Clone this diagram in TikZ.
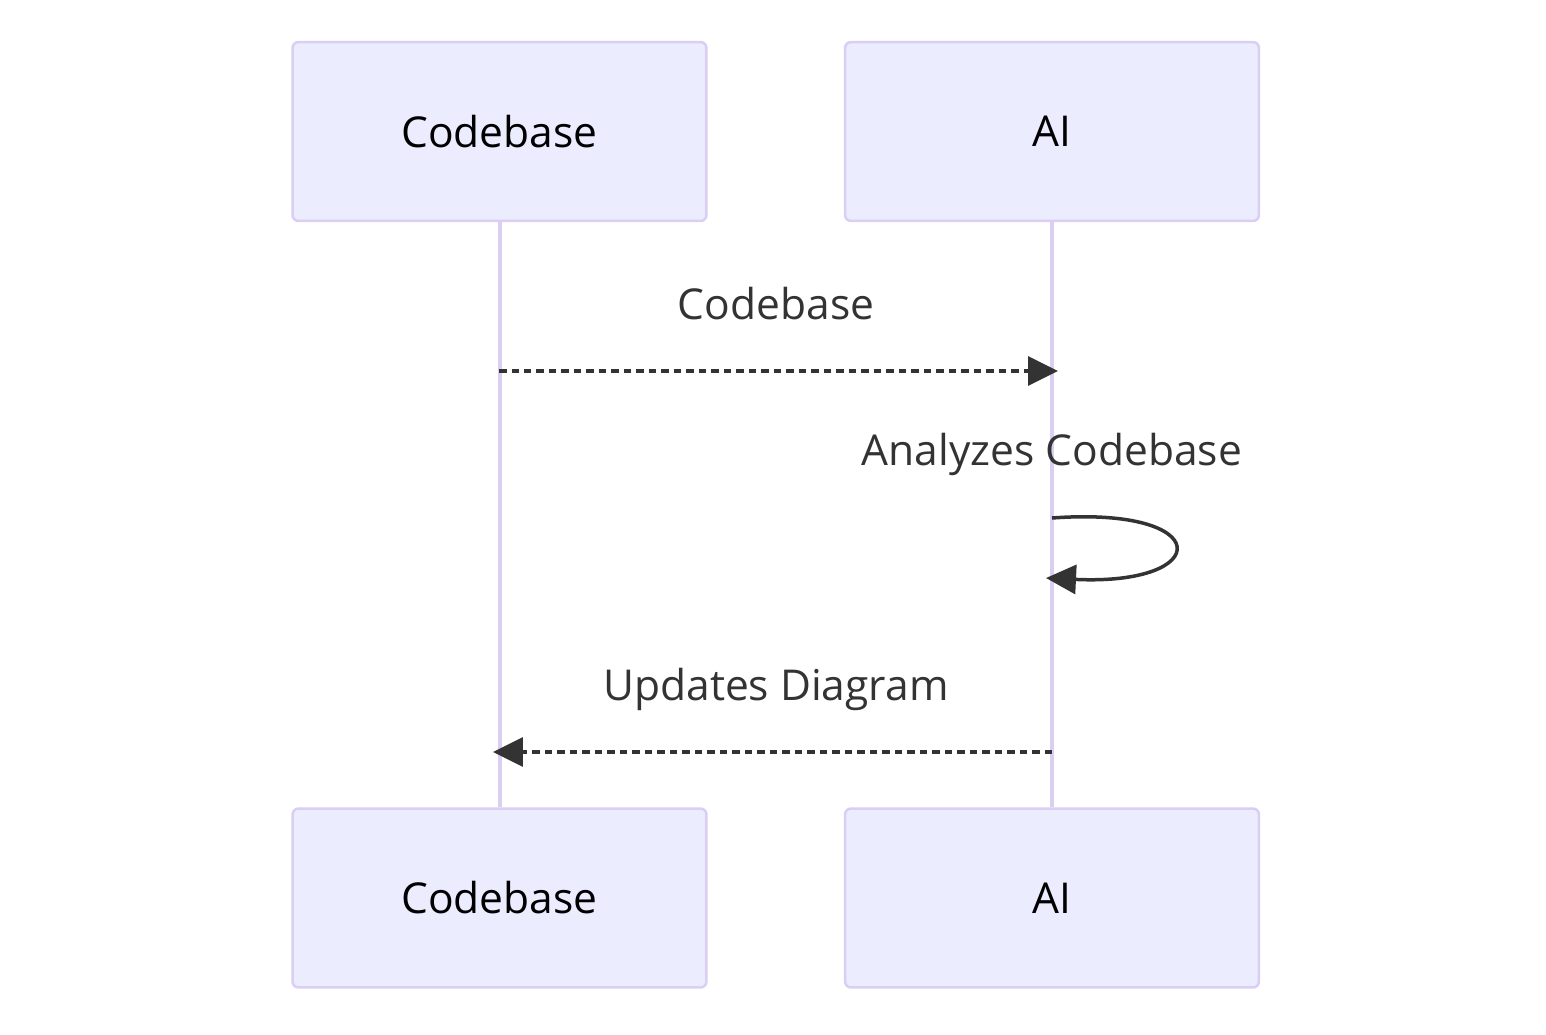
\documentclass[tikz,border=0pt]{standalone}
\usepackage{fontspec}
\setmainfont{Open Sans}
\usetikzlibrary{arrows.meta}
\definecolor{actorfill}{HTML}{ECECFF}
\definecolor{actorline}{HTML}{DACEF3}
\definecolor{msgline}{HTML}{333333}
\tikzset{
	actor/.style={draw=actorline, line width=0.05cm, fill=actorfill, rounded corners=0.12cm,
		minimum width=8.28cm, minimum height=3.58cm, inner sep=0pt,
		font=\fontsize{24.2pt}{29pt}\selectfont, text=black},
	lifeline/.style={draw=actorline, line width=0.08cm},
	msglabel/.style={font=\fontsize{24.2pt}{29pt}\selectfont, text=msgline, inner sep=0pt},
	msgarrow/.style={draw=msgline, line width=0.07cm, dash pattern=on 0.15cm off 0.1cm,
		-{Triangle[length=0.6cm,width=0.58cm]}},
	selfarrow/.style={draw=msgline, line width=0.07cm,
		-{Triangle[length=0.6cm,width=0.58cm]}}
}
\begin{document}
\begin{tikzpicture}[x=0.02cm, y=-0.02cm]
	\useasboundingbox (0,0) rectangle (1546,1035);
	% actors, top and bottom
	\node[actor] (codetop) at (499.5,131.5) {Codebase};
	\node[actor] (aitop) at (1052,131.5) {AI};
	\node[actor] (codebot) at (499.5,898) {Codebase};
	\node[actor] (aibot) at (1052,898) {AI};
	% lifelines
	\draw[lifeline] (codetop.south) -- (codebot.north);
	\draw[lifeline] (aitop.south) -- (aibot.north);
	% messages
	\coordinate (m1from) at (499,371);
	\coordinate (m1to) at (1058,371);
	\node[msglabel] (m1label) at (776,304) {Codebase};
	\draw[msgarrow] (m1from) -- (m1to);
	\coordinate (m2from) at (1052,518);
	\coordinate (m2to) at (1046,578);
	\node[msglabel] (m2label) at (1052,454) {Analyzes Codebase};
	\draw[selfarrow] (m2from) .. controls +(164,-12) and +(168,8) .. (m2to);
	\coordinate (m3from) at (1052,752);
	\coordinate (m3to) at (493,752);
	\node[msglabel] (m3label) at (776,689) {Updates Diagram};
	\draw[msgarrow] (m3from) -- (m3to);
\end{tikzpicture}
\end{document}
